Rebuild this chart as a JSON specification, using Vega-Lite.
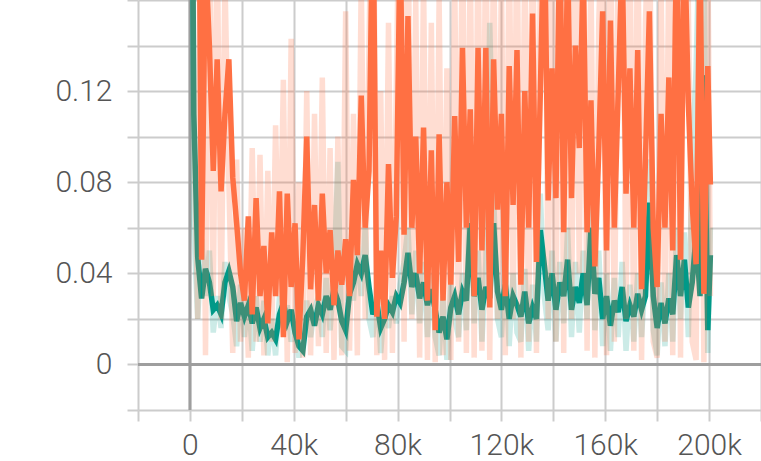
{
"$schema": "https://vega.github.io/schema/vega-lite/v6.json",
"width": 623,
"height": 410,
"autosize": {"type": "none"},
"padding": {"left": 138, "top": 0, "right": 0, "bottom": 51},
"background": "white",
"config": {
  "view": {"stroke": null},
  "axis": {"grid": true, "gridColor": "#cccccc", "gridWidth": 2, "tickColor": "#cccccc", "tickWidth": 2, "tickSize": 11, "domain": false, "labelFont": "Roboto", "labelFontWeight": 300, "labelFontSize": 30, "labelColor": "#555555", "labelFlush": false},
  "axisX": {"labelPadding": 9},
  "axisY": {"labelPadding": 15}
},
"data": {"values": [
{"s":0,"ts":0.40,"tr":0.40,"os":0.45,"or":0.6},
{"s":1500,"ts":0.11,"tr":0.06,"os":0.20,"or":0.11},
{"s":3000,"ts":0.047,"tr":0.02,"os":0.30,"or":0.02},
{"s":4500,"ts":0.029,"tr":0.055,"os":0.046,"or":0.25},
{"s":6000,"ts":0.042,"tr":0.03,"os":0.18,"or":0.004},
{"s":7500,"ts":0.036,"tr":0.05,"os":0.14,"or":0.2},
{"s":9000,"ts":0.024,"tr":0.014,"os":0.085,"or":0.03},
{"s":10500,"ts":0.026,"tr":0.03,"os":0.134,"or":0.19},
{"s":12000,"ts":0.022,"tr":0.016,"os":0.076,"or":0.02},
{"s":13500,"ts":0.036,"tr":0.045,"os":0.110,"or":0.17},
{"s":15000,"ts":0.041,"tr":0.03,"os":0.134,"or":0.08},
{"s":16500,"ts":0.034,"tr":0.022,"os":0.082,"or":0.005},
{"s":18000,"ts":0.019,"tr":0.008,"os":0.062,"or":0.09},
{"s":19500,"ts":0.027,"tr":0.035,"os":0.040,"or":0.01},
{"s":21000,"ts":0.021,"tr":0.012,"os":0.028,"or":0.06},
{"s":22500,"ts":0.026,"tr":0.03,"os":0.065,"or":0.003},
{"s":24000,"ts":0.018,"tr":0.006,"os":0.022,"or":0.095},
{"s":25500,"ts":0.025,"tr":0.03,"os":0.073,"or":0.01},
{"s":27000,"ts":0.016,"tr":0.01,"os":0.030,"or":0.092},
{"s":28500,"ts":0.020,"tr":0.028,"os":0.052,"or":0.004},
{"s":30000,"ts":0.012,"tr":0.004,"os":0.018,"or":0.085},
{"s":31500,"ts":0.014,"tr":0.02,"os":0.058,"or":0.01},
{"s":33000,"ts":0.011,"tr":0.004,"os":0.030,"or":0.105},
{"s":34500,"ts":0.022,"tr":0.03,"os":0.076,"or":0.03},
{"s":36000,"ts":0.027,"tr":0.016,"os":0.012,"or":0.125},
{"s":37500,"ts":0.019,"tr":0.026,"os":0.075,"or":0.001},
{"s":39000,"ts":0.024,"tr":0.01,"os":0.034,"or":0.143},
{"s":40500,"ts":0.014,"tr":0.02,"os":0.062,"or":0.005},
{"s":42000,"ts":0.008,"tr":0.003,"os":0.011,"or":0.08},
{"s":43500,"ts":0.006,"tr":0.012,"os":0.048,"or":0.003},
{"s":45000,"ts":0.021,"tr":0.028,"os":0.100,"or":0.12},
{"s":46500,"ts":0.024,"tr":0.012,"os":0.033,"or":0.004},
{"s":48000,"ts":0.017,"tr":0.024,"os":0.070,"or":0.11},
{"s":49500,"ts":0.026,"tr":0.03,"os":0.028,"or":0.008},
{"s":51000,"ts":0.022,"tr":0.012,"os":0.075,"or":0.126},
{"s":52500,"ts":0.030,"tr":0.038,"os":0.040,"or":0.005},
{"s":54000,"ts":0.024,"tr":0.015,"os":0.059,"or":0.095},
{"s":55500,"ts":0.033,"tr":0.04,"os":0.026,"or":0.002},
{"s":57000,"ts":0.028,"tr":0.089,"os":0.050,"or":0.1},
{"s":58500,"ts":0.019,"tr":0.008,"os":0.035,"or":0.004},
{"s":60000,"ts":0.015,"tr":0.006,"os":0.055,"or":0.155},
{"s":61500,"ts":0.031,"tr":0.04,"os":0.030,"or":0.006},
{"s":63000,"ts":0.036,"tr":0.028,"os":0.081,"or":0.11},
{"s":64500,"ts":0.044,"tr":0.052,"os":0.048,"or":0.004},
{"s":66000,"ts":0.040,"tr":0.03,"os":0.118,"or":0.17},
{"s":67500,"ts":0.048,"tr":0.06,"os":0.060,"or":0.02},
{"s":69000,"ts":0.034,"tr":0.02,"os":0.085,"or":0.14},
{"s":70500,"ts":0.022,"tr":0.012,"os":0.210,"or":0.25},
{"s":72000,"ts":0.027,"tr":0.035,"os":0.021,"or":0.004},
{"s":73500,"ts":0.016,"tr":0.005,"os":0.050,"or":0.12},
{"s":75000,"ts":0.020,"tr":0.028,"os":0.020,"or":0.002},
{"s":76500,"ts":0.026,"tr":0.016,"os":0.088,"or":0.15},
{"s":78000,"ts":0.023,"tr":0.03,"os":0.038,"or":0.005},
{"s":79500,"ts":0.030,"tr":0.018,"os":0.065,"or":0.12},
{"s":81000,"ts":0.027,"tr":0.035,"os":0.190,"or":0.24},
{"s":82500,"ts":0.036,"tr":0.045,"os":0.057,"or":0.01},
{"s":84000,"ts":0.049,"tr":0.06,"os":0.153,"or":0.2},
{"s":85500,"ts":0.034,"tr":0.022,"os":0.060,"or":0.02},
{"s":87000,"ts":0.040,"tr":0.05,"os":0.100,"or":0.16},
{"s":88500,"ts":0.029,"tr":0.018,"os":0.040,"or":0.003},
{"s":90000,"ts":0.036,"tr":0.045,"os":0.104,"or":0.17},
{"s":91500,"ts":0.026,"tr":0.012,"os":0.028,"or":0.002},
{"s":93000,"ts":0.033,"tr":0.04,"os":0.094,"or":0.15},
{"s":94500,"ts":0.024,"tr":0.012,"os":0.015,"or":0.001},
{"s":96000,"ts":0.014,"tr":0.004,"os":0.101,"or":0.16},
{"s":97500,"ts":0.021,"tr":0.03,"os":0.028,"or":0.004},
{"s":99000,"ts":0.011,"tr":0.002,"os":0.080,"or":0.13},
{"s":100500,"ts":0.025,"tr":0.035,"os":0.035,"or":0.002},
{"s":102000,"ts":0.030,"tr":0.02,"os":0.109,"or":0.17},
{"s":103500,"ts":0.022,"tr":0.012,"os":0.045,"or":0.01},
{"s":105000,"ts":0.032,"tr":0.04,"os":0.139,"or":0.2},
{"s":106500,"ts":0.028,"tr":0.015,"os":0.060,"or":0.005},
{"s":108000,"ts":0.062,"tr":0.09,"os":0.112,"or":0.18},
{"s":109500,"ts":0.030,"tr":0.018,"os":0.030,"or":0.003},
{"s":111000,"ts":0.038,"tr":0.05,"os":0.139,"or":0.19},
{"s":112500,"ts":0.024,"tr":0.01,"os":0.050,"or":0.006},
{"s":114000,"ts":0.034,"tr":0.045,"os":0.139,"or":0.2},
{"s":115500,"ts":0.029,"tr":0.15,"os":0.025,"or":0.002},
{"s":117000,"ts":0.062,"tr":0.075,"os":0.134,"or":0.19},
{"s":118500,"ts":0.032,"tr":0.02,"os":0.068,"or":0.02},
{"s":120000,"ts":0.024,"tr":0.012,"os":0.110,"or":0.17},
{"s":121500,"ts":0.035,"tr":0.045,"os":0.030,"or":0.004},
{"s":123000,"ts":0.020,"tr":0.008,"os":0.131,"or":0.19},
{"s":124500,"ts":0.030,"tr":0.04,"os":0.070,"or":0.02},
{"s":126000,"ts":0.026,"tr":0.014,"os":0.138,"or":0.2},
{"s":127500,"ts":0.021,"tr":0.01,"os":0.035,"or":0.003},
{"s":129000,"ts":0.032,"tr":0.042,"os":0.120,"or":0.18},
{"s":130500,"ts":0.018,"tr":0.006,"os":0.060,"or":0.01},
{"s":132000,"ts":0.025,"tr":0.035,"os":0.154,"or":0.21},
{"s":133500,"ts":0.020,"tr":0.01,"os":0.045,"or":0.005},
{"s":135000,"ts":0.059,"tr":0.075,"os":0.120,"or":0.17},
{"s":136500,"ts":0.044,"tr":0.03,"os":0.200,"or":0.26},
{"s":138000,"ts":0.028,"tr":0.015,"os":0.072,"or":0.02},
{"s":139500,"ts":0.040,"tr":0.05,"os":0.130,"or":0.19},
{"s":141000,"ts":0.024,"tr":0.01,"os":0.073,"or":0.01},
{"s":142500,"ts":0.036,"tr":0.045,"os":0.190,"or":0.25},
{"s":144000,"ts":0.030,"tr":0.018,"os":0.058,"or":0.005},
{"s":145500,"ts":0.046,"tr":0.06,"os":0.180,"or":0.24},
{"s":147000,"ts":0.024,"tr":0.012,"os":0.073,"or":0.02},
{"s":148500,"ts":0.034,"tr":0.045,"os":0.140,"or":0.2},
{"s":150000,"ts":0.027,"tr":0.014,"os":0.095,"or":0.04},
{"s":151500,"ts":0.040,"tr":0.05,"os":0.175,"or":0.23},
{"s":153000,"ts":0.026,"tr":0.02,"os":0.058,"or":0.006},
{"s":154500,"ts":0.060,"tr":0.104,"os":0.116,"or":0.17},
{"s":156000,"ts":0.031,"tr":0.015,"os":0.043,"or":0.003},
{"s":157500,"ts":0.038,"tr":0.05,"os":0.094,"or":0.15},
{"s":159000,"ts":0.020,"tr":0.008,"os":0.155,"or":0.21},
{"s":160500,"ts":0.030,"tr":0.04,"os":0.050,"or":0.004},
{"s":162000,"ts":0.017,"tr":0.006,"os":0.151,"or":0.21},
{"s":163500,"ts":0.028,"tr":0.038,"os":0.060,"or":0.01},
{"s":165000,"ts":0.023,"tr":0.012,"os":0.120,"or":0.18},
{"s":166500,"ts":0.034,"tr":0.045,"os":0.180,"or":0.24},
{"s":168000,"ts":0.019,"tr":0.006,"os":0.075,"or":0.02},
{"s":169500,"ts":0.026,"tr":0.035,"os":0.130,"or":0.19},
{"s":171000,"ts":0.021,"tr":0.01,"os":0.060,"or":0.006},
{"s":172500,"ts":0.031,"tr":0.04,"os":0.138,"or":0.2},
{"s":174000,"ts":0.024,"tr":0.012,"os":0.033,"or":0.002},
{"s":175500,"ts":0.030,"tr":0.04,"os":0.090,"or":0.15},
{"s":177000,"ts":0.071,"tr":0.09,"os":0.155,"or":0.21},
{"s":178500,"ts":0.030,"tr":0.015,"os":0.060,"or":0.01},
{"s":180000,"ts":0.016,"tr":0.004,"os":0.034,"or":0.003},
{"s":181500,"ts":0.027,"tr":0.036,"os":0.110,"or":0.17},
{"s":183000,"ts":0.018,"tr":0.008,"os":0.060,"or":0.01},
{"s":184500,"ts":0.029,"tr":0.04,"os":0.126,"or":0.18},
{"s":186000,"ts":0.022,"tr":0.01,"os":0.050,"or":0.004},
{"s":187500,"ts":0.048,"tr":0.06,"os":0.200,"or":0.25},
{"s":189000,"ts":0.030,"tr":0.02,"os":0.046,"or":0.003},
{"s":190500,"ts":0.046,"tr":0.058,"os":0.190,"or":0.24},
{"s":192000,"ts":0.025,"tr":0.012,"os":0.115,"or":0.16},
{"s":193500,"ts":0.036,"tr":0.09,"os":0.070,"or":0.01},
{"s":195000,"ts":0.057,"tr":0.13,"os":0.044,"or":0.002},
{"s":196500,"ts":0.030,"tr":0.2,"os":0.180,"or":0.23},
{"s":198000,"ts":0.127,"tr":0.19,"os":0.031,"or":0.001},
{"s":199500,"ts":0.015,"tr":0.005,"os":0.131,"or":0.19},
{"s":200500,"ts":0.048,"tr":0.06,"os":0.079,"or":0.03}
]},
"layer": [
  {"data": {"values": [{"z": 0}]}, "mark": {"type": "rule", "color": "#9e9e9e", "strokeWidth": 3},
   "encoding": {"x": {"field": "z", "type": "quantitative", "scale": {"domain": [-20000, 220000], "nice": false, "zero": false}, "title": null, "axis": {"values": [-20000,0,20000,40000,60000,80000,100000,120000,140000,160000,180000,200000,220000], "labelExpr": "datum.value < 0 || datum.value > 200000 || (round(datum.value/20000) % 2 == 1) ? '' : format(datum.value, '~s')"}}}},
  {"data": {"values": [{"z": 0}]}, "mark": {"type": "rule", "color": "#9e9e9e", "strokeWidth": 3},
   "encoding": {"y": {"field": "z", "type": "quantitative", "scale": {"domain": [-0.02, 0.16], "nice": false, "zero": false}, "title": null, "axis": {"values": [-0.02,0,0.02,0.04,0.06,0.08,0.1,0.12,0.14,0.16], "labelExpr": "datum.value < 0 || datum.value > 0.13 || (round(datum.value*100) % 4 != 0) ? '' : format(datum.value, '~g')"}}}},
  {"mark": {"type": "line", "color": "#009988", "opacity": 0.2, "strokeWidth": 5.5, "clip": true},
   "encoding": {"x": {"field": "s", "type": "quantitative"}, "y": {"field": "tr", "type": "quantitative"}}},
  {"mark": {"type": "line", "color": "#009988", "strokeWidth": 5.5, "clip": true},
   "encoding": {"x": {"field": "s", "type": "quantitative"}, "y": {"field": "ts", "type": "quantitative"}}},
  {"mark": {"type": "line", "color": "#ff7043", "opacity": 0.24, "strokeWidth": 5.5, "clip": true},
   "encoding": {"x": {"field": "s", "type": "quantitative"}, "y": {"field": "or", "type": "quantitative"}}},
  {"mark": {"type": "line", "color": "#ff7043", "strokeWidth": 5.5, "clip": true},
   "encoding": {"x": {"field": "s", "type": "quantitative"}, "y": {"field": "os", "type": "quantitative"}}}
]
}
